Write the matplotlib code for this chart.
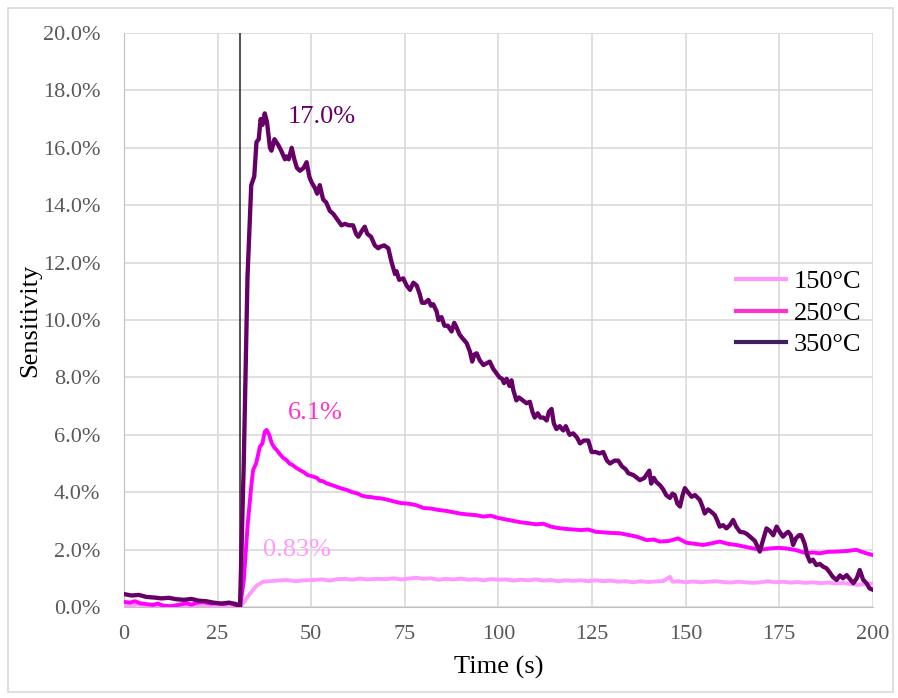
import matplotlib
matplotlib.use("Agg")
import matplotlib.pyplot as plt
from matplotlib.lines import Line2D
from matplotlib.patches import Rectangle
from matplotlib.ticker import PercentFormatter

plt.rcParams['font.family'] = ['Liberation Serif', 'DejaVu Serif']

# 350°C response (time in s, sensitivity in %)
t_350 = [0, 2, 4, 6, 8, 10, 12, 14, 16, 18, 20, 22, 24, 26, 28, 30, 31,
         32, 33, 34, 34.8, 35.4, 36, 36.5, 37, 37.6, 38.2, 39, 39.4, 40.2, 41.2,
         42, 43, 43.4, 44, 44.8, 45.5, 46.2, 47, 48, 48.8, 49.5, 50.1, 51, 51.6,
         52.3, 53.2, 54, 55, 55.9, 57, 58.1, 59, 60, 61.2, 62, 62.6, 63.5, 64.3,
         65, 66, 67, 67.9, 68.4, 69.5, 70.6, 71.5, 72.4, 72.8, 73.5, 74.6, 75.5,
         76.4, 77.3, 78.2, 79, 79.6, 80.4, 81.3, 82, 82.6, 83.5, 84, 84.8, 85.6,
         86.5, 87.5, 88.2, 88.8, 89.6, 90.5, 91.5, 92.4, 93.0, 93.6, 94.2, 95,
         96, 97, 97.7, 98.6, 99.5, 100.3, 101, 101.5, 102.2, 103, 103.5, 104,
         104.8, 105.5, 106.5, 107.5, 108.4, 109.1, 109.7, 110.5, 111.2, 112,
         112.9, 113.5, 114.2, 114.8, 115.5, 116.4, 117.3, 118, 119, 120, 121,
         121.8, 122.8, 124, 124.9, 126, 127, 128, 129, 129.8, 131, 132, 133, 134,
         134.7, 136, 137, 137.8, 139, 140.3, 140.8, 141.5, 142.2, 143.1, 144,
         144.8, 145.8, 146.5, 147.1, 147.8, 148.5, 149.2, 149.8, 150.6, 151.6,
         152.5, 153.8, 154.5, 155.1, 156, 157, 157.8, 158.5, 159.1, 160, 160.9,
         161.8, 162.7, 163.5, 164.5, 165.5, 166.3, 167.2, 168.5, 169.8, 170.6,
         171.6, 172.5, 173.4, 174.3, 175.2, 176.0, 176.7, 177.4, 178.1, 178.7,
         179.5, 180.3, 180.9, 181.8, 182.5, 183.2, 184, 184.9, 185.8, 186.8,
         187.6, 188.5, 189.3, 190.3, 191.2, 192, 193, 194, 194.8, 195.7, 196.5,
         197.4, 198.3, 199.1, 200]
s_350 = [0.45, 0.40, 0.42, 0.35, 0.33, 0.30, 0.32, 0.27, 0.25, 0.28, 0.22, 0.20, 0.15, 0.12, 0.15, 0.10, 0.0,
         5.0, 11.5, 14.7, 15.0, 16.2, 16.3, 17.0, 16.8, 17.2, 16.9, 16.0, 15.9, 16.3, 16.1,
         15.9, 15.6, 15.7, 15.6, 16.0, 15.6, 15.3, 15.2, 15.3, 15.5, 15.0, 14.8, 14.6, 14.4,
         14.7, 14.2, 14.1, 13.8, 13.7, 13.5, 13.3, 13.35, 13.3, 13.3, 13.0, 12.9, 13.1, 13.25,
         13.0, 12.9, 12.6, 12.5, 12.55, 12.6, 12.5, 12.0, 11.6, 11.7, 11.4, 11.45, 11.2,
         11.05, 11.3, 11.2, 10.9, 10.6, 10.6, 10.7, 10.5, 10.55, 10.3, 10.0, 10.1, 9.8,
         9.8, 9.6, 9.9, 9.75, 9.5, 9.35, 9.2, 8.9, 8.55, 8.8, 8.84, 8.6,
         8.43, 8.5, 8.55, 8.3, 8.14, 8.0, 7.95, 7.8, 7.95, 7.7, 7.9, 7.55,
         7.2, 7.3, 7.2, 7.1, 7.15, 6.8, 6.6, 6.75, 6.6, 6.6,
         6.5, 6.8, 6.9, 6.4, 6.2, 6.3, 6.15, 6.3, 6.0, 6.05, 5.9,
         5.7, 5.8, 5.8, 5.4, 5.4, 5.35, 5.4, 5.1, 5.0, 5.1, 5.1, 4.9, 4.8,
         4.66, 4.6, 4.5, 4.42, 4.5, 4.75, 4.3, 4.5, 4.35, 4.25, 4.1,
         3.9, 3.8, 3.95, 3.9, 3.6, 3.5, 3.9, 4.14, 4.0, 3.84,
         3.9, 3.73, 3.5, 3.26, 3.4, 3.3, 3.2, 3.0, 2.8, 2.85, 2.74,
         2.85, 3.03, 2.8, 2.62, 2.6, 2.55, 2.45, 2.3, 1.93, 2.3,
         2.74, 2.65, 2.5, 2.8, 2.6, 2.45, 2.55, 2.62, 2.5, 2.16,
         2.4, 2.5, 2.5, 2.2, 1.8, 1.58, 1.65, 1.46, 1.5, 1.4,
         1.35, 1.2, 1.05, 0.94, 1.1, 1.0, 1.11, 0.95, 0.83, 1.0, 1.29,
         0.95, 0.83, 0.65, 0.6]

# 250°C response
t_250 = [0, 1.5, 3, 4.3, 6, 7.8, 9, 10.5, 12.3, 14, 15.5, 16.7, 18, 19.5, 21.2, 23,
         24.7, 26.5, 28.3, 29.5, 31, 32, 33, 34, 34.5, 35.3, 36.3, 37, 37.6, 38.1,
         38.8, 39.5, 40.2, 40.8, 41.8, 42.5, 43.4, 44.2, 45, 46, 47, 48, 49, 50.6,
         51.5, 52.3, 53.2, 54.1, 55.5, 57, 58.3, 59.5, 61, 62.5, 63.5, 64.8, 66,
         67.2, 68.4, 70, 72, 74, 76, 78, 80, 82, 84, 86, 88, 90, 92, 94, 96, 98,
         100, 102, 104, 106, 108, 110, 112, 114, 116, 118, 120, 122, 124, 126,
         128, 130, 132.4, 135.1, 137, 139.6, 141.5, 143.1, 145.5, 148, 150.2,
         152.5, 154.7, 157, 159.1, 161.3, 163.6, 165.8, 168, 170.3, 172.5, 174.7,
         176.9, 179.5, 182.3, 184, 185.8, 188, 190.3, 193, 195.6, 198, 200]
s_250 = [0.18, 0.15, 0.2, 0.13, 0.1, 0.07, 0.12, 0.05, 0.02, 0.06, 0.1, 0.13, 0.08, 0.15, 0.18, 0.12,
         0.13, 0.1, 0.15, 0.08, 0.0, 0.9, 2.8, 4.2, 4.77, 5.0, 5.58, 5.7, 6.1, 6.17,
         6.0, 5.7, 5.55, 5.47, 5.3, 5.2, 5.12, 5.0, 4.95, 4.85, 4.77, 4.7, 4.6, 4.54,
         4.5, 4.4, 4.38, 4.31, 4.25, 4.18, 4.12, 4.08, 4.0, 3.95, 3.88, 3.84, 3.83,
         3.8, 3.79, 3.75, 3.68, 3.62, 3.6, 3.55, 3.45, 3.43, 3.38, 3.35, 3.3, 3.25, 3.22, 3.2, 3.15, 3.18,
         3.1, 3.05, 3.0, 2.95, 2.92, 2.88, 2.9, 2.8, 2.75, 2.72, 2.7, 2.68, 2.7, 2.62,
         2.6, 2.58, 2.57, 2.5, 2.45, 2.33, 2.35, 2.28, 2.3, 2.39, 2.24,
         2.2, 2.16, 2.22, 2.28, 2.2, 2.16, 2.1, 2.04, 2.0, 2.04, 2.06,
         2.04, 1.98, 1.87, 1.9, 1.87, 1.92, 1.93, 1.95, 1.99, 1.88, 1.81]

# 150°C response
t_150 = [0, 2, 4, 6, 8, 10, 12, 14, 16, 18, 20, 22, 24, 26, 28, 30, 31, 32, 33,
         34.5, 35.5, 37.2, 39, 41, 43.4, 46, 48, 50.5, 53, 55, 57, 59, 61, 63, 65,
         67.5, 70, 72, 74, 76, 78, 80, 82, 84, 86, 88, 90, 92, 94, 96, 98, 100,
         102, 104, 106, 108, 110, 112, 114, 116, 118, 120, 122, 124, 126, 128,
         130, 132, 134, 136, 138, 140, 142, 144, 145.8, 146.5, 148, 150, 152,
         154, 156, 158, 160, 162, 164, 166, 168, 170, 172, 174, 176, 178, 180,
         182, 184, 186, 188, 190, 192, 194, 196, 198, 200]
s_150 = [0.08, 0.05, 0.1, 0.04, 0.06, 0.02, 0.05, 0.03, 0.06, 0.04, 0.08, 0.05, 0.03, 0.06, 0.04, 0.02, 0.0, 0.15, 0.35,
         0.6, 0.75, 0.88, 0.9, 0.92, 0.94, 0.9, 0.93, 0.94, 0.96, 0.92, 0.97, 0.98, 0.95, 0.99, 0.96,
         0.98, 0.97, 1.0, 0.96, 0.99, 1.02, 0.98, 1.0, 0.95, 0.98, 0.96, 0.99, 0.95, 0.97, 0.93, 0.97, 0.95,
         0.96, 0.92, 0.95, 0.93, 0.96, 0.92, 0.94, 0.9, 0.93, 0.91, 0.93, 0.9, 0.93, 0.9,
         0.92, 0.88, 0.9, 0.86, 0.9, 0.87, 0.89, 0.9, 1.05, 0.88, 0.9, 0.86, 0.89,
         0.86, 0.88, 0.9, 0.87, 0.85, 0.88, 0.86, 0.84, 0.86, 0.9, 0.86, 0.88, 0.85, 0.87,
         0.84, 0.86, 0.83, 0.85, 0.82, 0.84, 0.8, 0.77, 0.8, 0.82]

labels = ['150°C', '250°C', '350°C']
peaks = ['0.83%', '6.1%', '17.0%']
gas_on = 31

fig = plt.figure(figsize=(8.98, 6.98), dpi=100)
ax = fig.add_axes([0.138, 0.1304, 0.834, 0.8223])

ax.plot(t_150, s_150, color='#ff99ff', lw=2.8, zorder=3)
ax.plot(t_250, s_250, color='#ff00ff', lw=2.8, zorder=4)
ax.plot(t_350, s_350, color='#660066', lw=3.1, zorder=5)
ax.axvline(gas_on, color='#333333', lw=1.2, zorder=2)

ax.text(43.8, 17.07, peaks[2], color='#660066', fontsize=19, va='center')
ax.text(43.8, 6.76, peaks[1], color='#ff33cc', fontsize=19, va='center')
ax.text(37.1, 1.99, peaks[0], color='#ff99ff', fontsize=19, va='center')

ax.set_xlim(0, 200)
ax.set_ylim(0, 20)
ax.set_xticks(range(0, 201, 25))
ax.set_yticks(range(0, 21, 2))
ax.yaxis.set_major_formatter(PercentFormatter(decimals=1))
ax.grid(True, color='#d9d9d9', lw=1.2)
ax.set_axisbelow(True)
ax.tick_params(length=0, labelsize=16, labelcolor='#595959')
ax.tick_params(axis='y', pad=17)
ax.tick_params(axis='x', pad=13)
for side in ['top', 'right']:
    ax.spines[side].set_visible(False)
ax.spines['left'].set_color('#bfbfbf')
ax.spines['bottom'].set_color('#bfbfbf')

ax.set_xlabel('Time (s)', fontsize=19)
ax.set_ylabel('Sensitivity', fontsize=19)
ax.xaxis.set_label_coords(0.5, -0.085)
ax.yaxis.set_label_coords(-0.11, 0.5)

handles = [Line2D([], [], color=c, lw=3) for c in ['#ff99ff', '#ff33cc', '#40205a']]
ax.legend(handles, labels, loc='center left', bbox_to_anchor=(0.785, 0.512),
          frameon=False, fontsize=19, handlelength=1.9, handletextpad=0.3,
          labelspacing=0.3)

fig.patches.append(Rectangle((8 / 898, 1 - 692 / 698), 885 / 898, 684 / 698,
                             transform=fig.transFigure, fill=False,
                             edgecolor='#d9d9d9', lw=1.2))

fig.savefig('out.png', dpi=100)
